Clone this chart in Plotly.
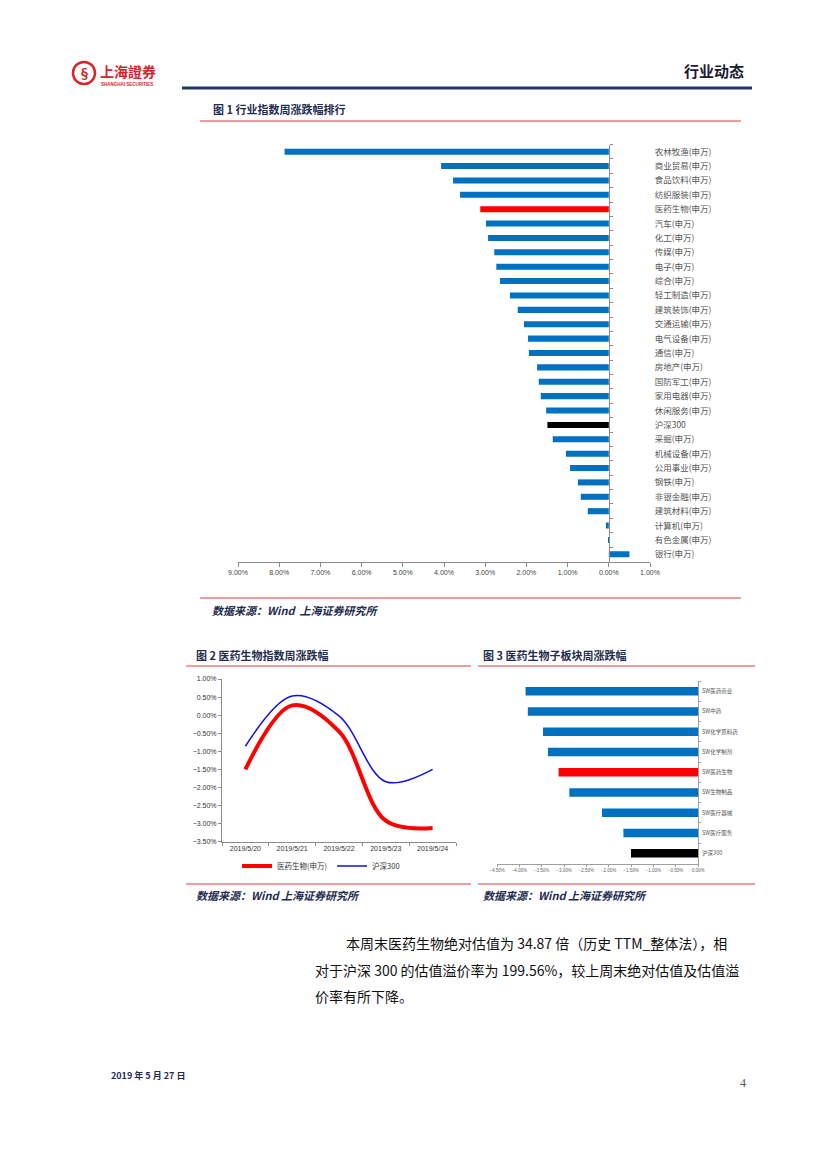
import plotly.graph_objects as go

W, H = 827, 1169

# ---------------- data ----------------
ind_names = ["农林牧渔(申万)", "商业贸易(申万)", "食品饮料(申万)", "纺织服装(申万)", "医药生物(申万)",
             "汽车(申万)", "化工(申万)", "传媒(申万)", "电子(申万)", "综合(申万)",
             "轻工制造(申万)", "建筑装饰(申万)", "交通运输(申万)", "电气设备(申万)", "通信(申万)",
             "房地产(申万)", "国防军工(申万)", "家用电器(申万)", "休闲服务(申万)", "沪深300",
             "采掘(申万)", "机械设备(申万)", "公用事业(申万)", "钢铁(申万)", "非银金融(申万)",
             "建筑材料(申万)", "计算机(申万)", "有色金属(申万)", "银行(申万)"]
ind_values = [-7.87, -4.07, -3.78, -3.61, -3.12,
              -2.98, -2.93, -2.78, -2.73, -2.64,
              -2.40, -2.21, -2.06, -1.96, -1.94,
              -1.74, -1.70, -1.65, -1.52, -1.49,
              -1.36, -1.04, -0.94, -0.75, -0.68,
              -0.51, -0.07, -0.01, 0.50]
ind_ticks = [-9, -8, -7, -6, -5, -4, -3, -2, -1, 0, 1]
ind_ticktext = ["9.00%", "8.00%", "7.00%", "6.00%", "5.00%", "4.00%", "3.00%", "2.00%", "1.00%", "0.00%", "1.00%"]

dates = ["2019/5/20", "2019/5/21", "2019/5/22", "2019/5/23", "2019/5/24"]
pharma_line = [-1.50, 0.27, -0.45, -2.92, -3.12]
hs300_line = [-0.86, 0.53, -0.02, -1.84, -1.50]

sub_names = ["SW医药商业", "SW中药", "SW化学原料药", "SW化学制剂", "SW医药生物",
             "SW生物制品", "SW医疗器械", "SW医疗服务", "沪深300"]
sub_values = [-3.86, -3.81, -3.47, -3.36, -3.12, -2.88, -2.15, -1.67, -1.50]

BLUE, RED, BLACK = "#0070C0", "#FF0000", "#000000"
NAVY = "#1F2D50"
FONT = "Noto Sans CJK SC"


def X(px):
    return px / W


def Y(py):
    return 1 - py / H


def bar_colors(names, highlight):
    return [RED if n == highlight else (BLACK if n == "沪深300" else BLUE) for n in names]


fig = go.Figure()

# ---------- chart 1 ----------
fig.add_trace(go.Bar(x=ind_values, y=ind_names, orientation="h", width=0.42,
                     marker=dict(color=bar_colors(ind_names, "医药生物(申万)"), line=dict(width=0)),
                     xaxis="x", yaxis="y", showlegend=False))

# ---------- chart 2 ----------
fig.add_trace(go.Scatter(x=dates, y=pharma_line, mode="lines", name="医药生物(申万)",
                         line=dict(color="#FF0000", width=4, shape="spline", smoothing=1.0),
                         xaxis="x2", yaxis="y2"))
fig.add_trace(go.Scatter(x=dates, y=hs300_line, mode="lines", name="沪深300",
                         line=dict(color="#1010E0", width=1.5, shape="spline", smoothing=1.0),
                         xaxis="x2", yaxis="y2"))

# ---------- chart 3 ----------
fig.add_trace(go.Bar(x=sub_values, y=sub_names, orientation="h", width=0.42,
                     marker=dict(color=bar_colors(sub_names, "SW医药生物"), line=dict(width=0)),
                     xaxis="x3", yaxis="y3", showlegend=False))

axis_gray = "#8C8C8C"
tickfont_small = dict(family="Liberation Sans, " + FONT, size=7, color="#333333")

fig.update_layout(
    width=W, height=H, margin=dict(l=0, r=0, t=0, b=0, autoexpand=False),
    paper_bgcolor="white", plot_bgcolor="white",
    font=dict(family=FONT, color="#333333"),
    # chart 1
    xaxis=dict(domain=[X(238), X(650)], range=[-9, 1], anchor="y", automargin=False,
               tickmode="array", tickvals=ind_ticks, ticktext=ind_ticktext,
               showgrid=False, zeroline=False, showline=True, linecolor=axis_gray, linewidth=1,
               ticks="outside", ticklen=4, tickcolor=axis_gray,
               tickfont=dict(family="Liberation Sans, " + FONT, size=7, color="#444444")),
    yaxis=dict(domain=[Y(561.5), Y(144.5)], type="category", range=[len(ind_names) - 0.5, -0.5],
               anchor="free", position=X(609), side="right", automargin=False,
               showgrid=False, zeroline=False, showline=True, linecolor=axis_gray, linewidth=1,
               ticks="outside", ticklen=3, tickcolor=axis_gray, tickson="boundaries",
               ticklabelstandoff=43,
               tickfont=dict(family=FONT, size=8.5, color="#555555")),
    # chart 2
    xaxis2=dict(domain=[X(222), X(456)], type="category", range=[-0.5, 4.5], anchor="y2",
                automargin=False,
                showgrid=False, zeroline=False, showline=True, linecolor=axis_gray, linewidth=1,
                ticks="outside", ticklen=3, tickcolor=axis_gray, tickson="boundaries",
                tickfont=tickfont_small),
    yaxis2=dict(domain=[Y(841.7), Y(679)], range=[-3.5, 1.0], anchor="x2", automargin=False,
                tickmode="linear", tick0=-3.5, dtick=0.5, tickformat=".2f", ticksuffix="%",
                showgrid=False, zeroline=False, showline=True, linecolor=axis_gray, linewidth=1,
                ticks="outside", ticklen=3, tickcolor=axis_gray,
                tickfont=tickfont_small),
    # chart 3
    xaxis3=dict(domain=[X(497), X(698)], range=[-4.5, 0], anchor="y3", automargin=False,
                tickmode="linear", tick0=-4.5, dtick=0.5, tickformat=".2f", ticksuffix="%",
                showgrid=False, zeroline=False, showline=True, linecolor="#A0A0A0", linewidth=1,
                ticks="outside", ticklen=2, tickcolor="#A0A0A0",
                tickfont=dict(family="Liberation Sans, " + FONT, size=4.5, color="#666666")),
    yaxis3=dict(domain=[Y(863.5), Y(681)], type="category", range=[len(sub_names) - 0.5, -0.5],
                anchor="x3", side="right", automargin=False,
                showgrid=False, zeroline=False, showline=True, linecolor="#A0A0A0", linewidth=1,
                ticks="outside", ticklen=2, tickcolor="#A0A0A0", tickson="boundaries",
                ticklabelstandoff=2,
                tickfont=dict(family=FONT, size=5.5, color="#555555")),
    legend=dict(orientation="h", x=X(237), y=Y(866), xanchor="left", yanchor="middle",
                font=dict(family=FONT, size=7.5, color="#333333"), itemwidth=30,
                bgcolor="rgba(0,0,0,0)", tracegroupgap=0),
)

# ---------- decorative rules ----------
shapes = [
    dict(type="line", xref="paper", yref="paper", x0=X(182), x1=X(752), y0=Y(88), y1=Y(88),
         line=dict(color="#1F3864", width=3)),
    dict(type="line", xref="paper", yref="paper", x0=X(200), x1=X(741), y0=Y(121), y1=Y(121),
         line=dict(color="#E03A3A", width=1)),
    dict(type="line", xref="paper", yref="paper", x0=X(200), x1=X(741), y0=Y(598), y1=Y(598),
         line=dict(color="#E03A3A", width=1)),
    dict(type="line", xref="paper", yref="paper", x0=X(186), x1=X(471), y0=Y(666), y1=Y(666),
         line=dict(color="#E03A3A", width=1)),
    dict(type="line", xref="paper", yref="paper", x0=X(478), x1=X(755), y0=Y(666), y1=Y(666),
         line=dict(color="#E03A3A", width=1)),
    dict(type="line", xref="paper", yref="paper", x0=X(186), x1=X(471), y0=Y(884), y1=Y(884),
         line=dict(color="#E03A3A", width=1)),
    dict(type="line", xref="paper", yref="paper", x0=X(478), x1=X(755), y0=Y(884), y1=Y(884),
         line=dict(color="#E03A3A", width=1)),
    # logo circle
    dict(type="circle", xref="paper", yref="paper", x0=X(73), x1=X(95), y0=Y(84), y1=Y(62),
         line=dict(color="#D8232A", width=2.5)),
]
fig.update_layout(shapes=shapes)


def ann(text, x, y, size, color="#000000", xanchor="left", bold=False, italic=False, family=FONT):
    t = text
    if bold:
        t = "<b>" + t + "</b>"
    if italic:
        t = "<i>" + t + "</i>"
    return dict(text=t, x=X(x), y=Y(y), xref="paper", yref="paper", xanchor=xanchor,
                yanchor="middle", showarrow=False, font=dict(family=family, size=size, color=color))


annotations = [
    ann("§", 84, 73, 13, "#D8232A", xanchor="center", bold=True),
    ann("上海證券", 98, 71, 14, "#D8232A", bold=True),
    ann("SHANGHAI SECURITIES", 99, 84, 4.5, "#D8232A", bold=True, family="Liberation Sans"),
    ann("行业动态", 746, 70, 15, "#1B1B35", xanchor="right", bold=True),
    ann("图 1 行业指数周涨跌幅排行", 211, 109, 11, NAVY, bold=True),
    ann("数据来源：Wind  上海证券研究所", 210, 610, 11, NAVY, bold=True, italic=True),
    ann("图 2 医药生物指数周涨跌幅", 194, 655, 11, NAVY, bold=True),
    ann("图 3 医药生物子板块周涨跌幅", 481, 655, 11, NAVY, bold=True),
    ann("数据来源：Wind 上海证券研究所", 194, 895, 11, NAVY, bold=True, italic=True),
    ann("数据来源：Wind 上海证券研究所", 481, 895, 11, NAVY, bold=True, italic=True),
    ann("本周末医药生物绝对估值为 34.87 倍（历史 TTM_整体法），相", 344, 943, 14, "#111111"),
    ann("对于沪深 300 的估值溢价率为 199.56%，较上周末绝对估值及估值溢", 313, 970, 14, "#111111"),
    ann("价率有所下降。", 313, 996, 14, "#111111"),
    ann("2019 年 5 月 27 日", 109, 1075, 9, NAVY, bold=True),
    ann("4", 748, 1083, 12, "#555555", xanchor="right", family="Liberation Serif"),
]
fig.update_layout(annotations=annotations)

fig.write_html("out.html", config={"displayModeBar": False},
               post_script="document.body.style.margin='0';")
